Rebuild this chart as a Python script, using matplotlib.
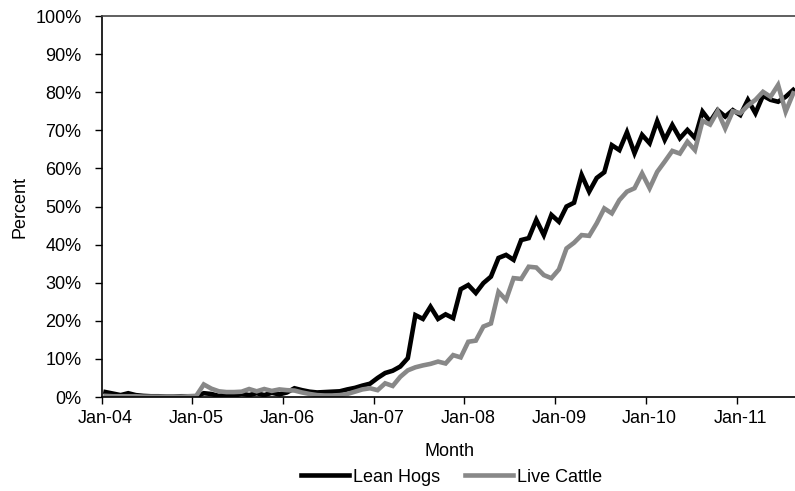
import matplotlib
matplotlib.use("Agg")
import matplotlib.pyplot as plt
import numpy as np
from matplotlib.ticker import FixedLocator, NullFormatter

plt.rcParams['font.family'] = ['Liberation Sans', 'DejaVu Sans']

# Monthly share (percent), Jan-04 .. Aug-11
lean_hogs = [
    1.3, 0.9, 0.5, 1.0, 0.5, 0.3, 0.2, 0.2, 0.1, 0.1, 0.2, 0.2,
    0.2, 1.0, 0.8, 0.3, 0.6, 0.3, 0.9, 0.5, 1.0, 0.5, 1.1, 0.7,
    1.2, 2.3, 1.8, 1.4, 1.2, 1.3, 1.4, 1.5, 2.0, 2.4, 3.0, 3.5,
    5.0, 6.3, 6.9, 8.0, 10.2, 21.5, 20.5, 23.7, 20.5, 21.7, 20.7, 28.3,
    29.4, 27.3, 29.9, 31.6, 36.5, 37.3, 36.0, 41.2, 41.7, 46.5, 42.5, 47.8,
    46.0, 50.0, 51.0, 58.3, 53.9, 57.5, 59.0, 66.1, 64.8, 69.5, 64.0, 68.8,
    66.6, 72.4, 67.5, 71.4, 67.9, 70.1, 68.0, 74.9, 72.3, 75.3, 73.6, 75.3,
    74.0, 78.0, 74.5, 79.1, 78.0, 77.5, 78.8, 80.6,
]
live_cattle = [
    0.3, 0.2, 0.2, 0.2, 0.2, 0.1, 0.1, 0.1, 0.1, 0.1, 0.1, 0.2,
    0.3, 3.3, 2.2, 1.5, 1.3, 1.3, 1.4, 2.1, 1.5, 2.1, 1.6, 2.0,
    1.8, 1.7, 1.2, 0.8, 0.5, 0.4, 0.4, 0.5, 0.8, 1.4, 2.0, 2.3,
    1.8, 3.6, 2.9, 5.3, 7.0, 7.8, 8.3, 8.7, 9.3, 8.8, 11.0, 10.4,
    14.5, 14.8, 18.5, 19.3, 27.6, 25.5, 31.2, 31.0, 34.2, 34.0, 32.0, 31.2,
    33.5, 39.0, 40.5, 42.5, 42.3, 45.6, 49.5, 48.2, 51.7, 53.9, 54.8, 58.7,
    54.8, 59.1, 61.8, 64.6, 63.9, 67.0, 64.8, 72.5, 71.5, 75.0, 70.5, 75.0,
    74.5, 76.5, 78.0, 80.1, 78.8, 81.9, 74.9, 79.7,
]
year_labels = ['Jan-04', 'Jan-05', 'Jan-06', 'Jan-07', 'Jan-08', 'Jan-09', 'Jan-10', 'Jan-11']

FS = 13
n = len(lean_hogs)
x = np.arange(n) + 0.5  # points sit in the middle of each month slot

fig = plt.figure(figsize=(7.95, 4.91), dpi=100)
ax = fig.add_axes([0.128, 0.1914, 0.8745, 0.776])

ax.plot(x, lean_hogs, color='black', lw=3.3, label='Lean Hogs', solid_joinstyle='miter')
ax.plot(x, live_cattle, color='#888888', lw=3.3, label='Live Cattle', solid_joinstyle='miter')

ax.set_xlim(0, n)
ax.set_ylim(0, 100)

# year boundaries get the ticks, labels sit under the January slot
year_pos = np.arange(0, n, 12)
ax.xaxis.set_major_locator(FixedLocator(year_pos))
ax.xaxis.set_major_formatter(NullFormatter())
ax.xaxis.set_minor_locator(FixedLocator(year_pos + 0.5))
ax.set_xticklabels(year_labels, minor=True)
ax.tick_params(axis='x', which='major', direction='out', length=5, width=1)
ax.tick_params(axis='x', which='minor', length=0, pad=9, labelsize=FS)

ax.set_yticks(np.arange(0, 101, 10))
ax.set_yticklabels([f'{v}%' for v in range(0, 101, 10)])
ax.tick_params(axis='y', direction='out', length=5, width=1, pad=9.5, labelsize=FS)

for side in ['left', 'bottom']:
    ax.spines[side].set_color('black')
    ax.spines[side].set_linewidth(1.2)
ax.spines['top'].set_color('#444444')
ax.spines['top'].set_linewidth(1.2)
ax.spines['right'].set_visible(False)

ax.set_xlabel('Month', fontsize=FS)
ax.xaxis.set_label_coords(0.5, -0.144)
ax.xaxis.label.set_va('center')
ax.set_ylabel('Percent', fontsize=FS)
ax.yaxis.set_label_coords(-0.118, 0.5)
ax.yaxis.label.set_va('center')

fig.legend(loc='center', bbox_to_anchor=(0.568, 0.028), ncol=2, frameon=False,
           fontsize=FS, handlelength=2.65, handletextpad=0.2, columnspacing=1.4)

fig.savefig('out.png', dpi=100)
